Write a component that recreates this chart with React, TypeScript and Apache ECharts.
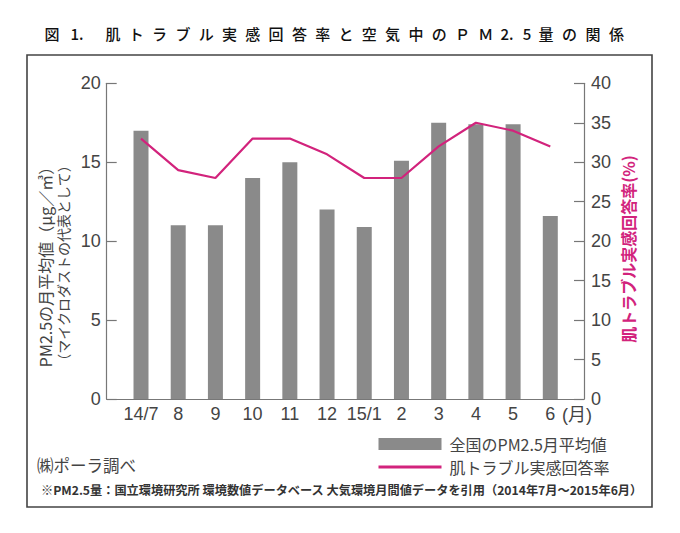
import React, { useEffect, useRef } from "react";
import * as echarts from "echarts";

// ---- data ----
const categories = ["14/7", "8", "9", "10", "11", "12", "15/1", "2", "3", "4", "5", "6"];
const pm25Monthly = [17, 11, 11, 14, 15, 12, 10.9, 15.1, 17.5, 17.4, 17.4, 11.6];
const skinTroubleRate = [33, 29, 28, 33, 33, 31, 28, 28, 32, 35, 34, 32];
const leftAxisRange = [0, 20, 5];
const rightAxisRange = [0, 40, 5];
const barName = "全国のPM2.5月平均値";
const lineName = "肌トラブル実感回答率";
const leftNameLines = ["PM2.5の月平均値（μg／㎥）", "（マイクロダストの代表として）"];
const rightName = "肌トラブル実感回答率(%)";
const monthUnit = "(月)";
const sourceNote = "㈱ポーラ調べ";
const footNote = "※PM2.5量：国立環境研究所 環境数値データベース 大気環境月間値データを引用（2014年7月～2015年6月）";

// ---- layout ----
const W = 680;
const H = 533;
const GRID_TOP = 83.3;
const GRID_BOTTOM = 134;
const PLOT_LEFT = 122.4;
const PLOT_RIGHT = 111.1;
const AXIS_LEFT = 106.7;
const AXIS_RIGHT = 96;

const CJK = '"Noto Sans CJK JP", sans-serif';
const NUM = '"Liberation Sans", "Noto Sans CJK JP", sans-serif';
const GRAY_BAR = "#8a8a8a";
const MAGENTA = "#d2237c";
const TEXT = "#444";

const titleRuns = [
  { text: "図", x: 52, step: 0 },
  { text: "1.", x: 77, step: 0 },
  { text: "肌トラブル実感回答率と空気中のＰＭ", x: 113, step: 23.3 },
  { text: "2.", x: 507, step: 0 },
  { text: "5", x: 527, step: 0 },
  { text: "量の関係", x: 546, step: 23.5 },
];

function titleElements() {
  const els: any[] = [];
  titleRuns.forEach((run) => {
    const pieces = run.step ? Array.from(run.text) : [run.text];
    pieces.forEach((ch, i) => {
      els.push({
        type: "text",
        x: run.x + i * run.step,
        y: 33,
        style: {
          text: ch,
          fill: "#111",
          fontSize: 15,
          fontWeight: 500,
          fontFamily: CJK,
          textAlign: "center",
          textVerticalAlign: "middle",
          align: "center",
          verticalAlign: "middle",
        },
      });
    });
  });
  return els;
}

function textEl(text: string, x: number, y: number, size: number, opts: any = {}) {
  const align = opts.align || "left";
  return {
    type: "text",
    x,
    y,
    rotation: opts.rotation || 0,
    style: {
      text,
      fill: opts.color || TEXT,
      fontSize: size,
      fontWeight: opts.weight || "normal",
      fontFamily: opts.family || CJK,
      textAlign: align,
      textVerticalAlign: "middle",
      align,
      verticalAlign: "middle",
    },
  };
}

export default function App() {
  const ref = useRef<HTMLDivElement>(null);

  useEffect(() => {
    if (!ref.current) return;
    const chart = echarts.init(ref.current, undefined, { renderer: "svg" });

    const axisLabelStyle = { fontSize: 18, color: TEXT, fontFamily: NUM };
    const axisLineStyle = { color: "#777", width: 1.2 };

    chart.setOption({
      animation: false,
      backgroundColor: "#fff",
      grid: [
        { left: PLOT_LEFT, right: PLOT_RIGHT, top: GRID_TOP, bottom: GRID_BOTTOM },
        { left: AXIS_LEFT, right: AXIS_RIGHT, top: GRID_TOP, bottom: GRID_BOTTOM },
      ],
      xAxis: [
        {
          type: "category",
          gridIndex: 0,
          data: categories,
          axisLine: { show: false },
          axisTick: { show: false },
          axisLabel: { ...axisLabelStyle, margin: 6, interval: 0 },
        },
        {
          type: "value",
          gridIndex: 1,
          min: 0,
          max: 1,
          axisLine: { show: true, lineStyle: axisLineStyle },
          axisTick: { show: false },
          axisLabel: { show: false },
          splitLine: { show: false },
        },
      ],
      yAxis: [
        {
          type: "value",
          gridIndex: 0,
          min: leftAxisRange[0],
          max: leftAxisRange[1],
          interval: leftAxisRange[2],
          show: false,
        },
        {
          type: "value",
          gridIndex: 0,
          min: rightAxisRange[0],
          max: rightAxisRange[1],
          interval: rightAxisRange[2],
          show: false,
        },
        {
          type: "value",
          gridIndex: 1,
          position: "left",
          min: leftAxisRange[0],
          max: leftAxisRange[1],
          interval: leftAxisRange[2],
          axisLine: { show: true, lineStyle: axisLineStyle },
          axisTick: { show: true, inside: true, length: 10, lineStyle: axisLineStyle },
          axisLabel: { ...axisLabelStyle, margin: 6 },
          splitLine: { show: false },
        },
        {
          type: "value",
          gridIndex: 1,
          position: "right",
          min: rightAxisRange[0],
          max: rightAxisRange[1],
          interval: rightAxisRange[2],
          axisLine: { show: true, lineStyle: axisLineStyle },
          axisTick: { show: true, inside: true, length: 10, lineStyle: axisLineStyle },
          axisLabel: { ...axisLabelStyle, margin: 7 },
          splitLine: { show: false },
        },
      ],
      legend: {
        orient: "vertical",
        left: 377,
        top: 435.5,
        padding: 0,
        itemWidth: 63,
        itemHeight: 12,
        itemGap: 6,
        selectedMode: false,
        textStyle: { fontSize: 16, lineHeight: 17, color: TEXT, fontFamily: CJK, padding: [0, 0, 0, 3] },
        data: [
          { name: barName, icon: "rect" },
          { name: lineName, itemStyle: { opacity: 0 }, lineStyle: { color: MAGENTA, width: 3 } },
        ],
      },
      series: [
        {
          name: barName,
          type: "bar",
          xAxisIndex: 0,
          yAxisIndex: 0,
          data: pm25Monthly,
          barWidth: 15,
          itemStyle: { color: GRAY_BAR },
        },
        {
          name: lineName,
          type: "line",
          xAxisIndex: 0,
          yAxisIndex: 1,
          data: skinTroubleRate,
          symbol: "none",
          lineStyle: { color: MAGENTA, width: 2.2 },
          itemStyle: { color: MAGENTA },
        },
      ],
      graphic: [
        {
          type: "rect",
          shape: { x: 27, y: 55, width: 625, height: 452 },
          style: { fill: "none", stroke: "#444", lineWidth: 1.6 },
          silent: true,
        },
        ...titleElements(),
        textEl(leftNameLines[0], 45, 263, 16, { rotation: Math.PI / 2, align: "center" }),
        textEl(leftNameLines[1], 63, 263, 14, { rotation: Math.PI / 2, align: "center" }),
        textEl(rightName, 628, 249, 16, { rotation: Math.PI / 2, align: "center", color: MAGENTA, weight: "bold" }),
        textEl(monthUnit, 562, 415, 18, { family: NUM }),
        textEl(sourceNote, 37, 465, 16.5),
        textEl(footNote, 41, 490, 12.2, { weight: "bold", color: "#333" }),
      ],
    });

    return () => chart.dispose();
  }, []);

  return (
    <div
      ref={ref}
      style={{ position: "fixed", left: 0, top: 0, width: W, height: H, background: "#fff" }}
    />
  );
}
